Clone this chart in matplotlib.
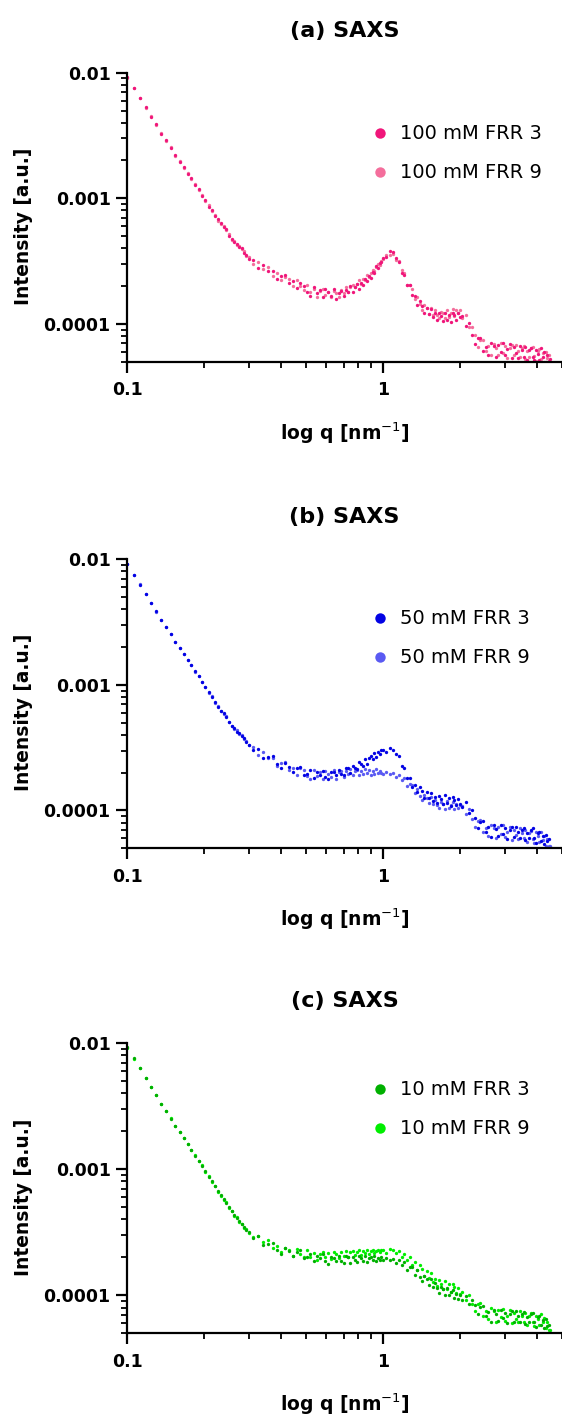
import matplotlib
matplotlib.use('Agg')
import matplotlib.pyplot as plt
import numpy as np
from matplotlib.ticker import NullFormatter

plt.rcParams['font.family'] = ['DejaVu Sans']

# ---------------- data (q in nm^-1, intensity in units of 1e-5 a.u.) ----------------
q = [0.100, 0.106, 0.112, 0.118, 0.124, 0.130, 0.136, 0.142, 0.148, 0.154,
     0.160, 0.166, 0.172, 0.178, 0.184, 0.190, 0.196, 0.202, 0.208, 0.214,
     0.220, 0.226, 0.232, 0.238, 0.244, 0.250, 0.256, 0.262, 0.268, 0.274,
     0.280, 0.286, 0.292, 0.298,
     0.310, 0.325, 0.340, 0.355, 0.370, 0.385, 0.400, 0.415, 0.430, 0.445,
     0.460, 0.475, 0.490, 0.505, 0.520, 0.535, 0.550, 0.565, 0.580, 0.595,
     0.610, 0.625, 0.640, 0.655, 0.670, 0.685, 0.700, 0.715, 0.730, 0.745,
     0.760, 0.775, 0.790, 0.805, 0.820, 0.835, 0.850, 0.865, 0.880, 0.895,
     0.910, 0.925, 0.940, 0.955, 0.970, 0.985,
     1.00, 1.03, 1.06, 1.09, 1.12, 1.15, 1.18, 1.21, 1.24, 1.27,
     1.30, 1.33, 1.36, 1.39, 1.42, 1.45, 1.48, 1.51, 1.54, 1.57,
     1.60, 1.63, 1.66, 1.69, 1.72, 1.75, 1.78, 1.81, 1.84, 1.87,
     1.90, 1.93, 1.96, 1.99,
     2.04, 2.10, 2.16, 2.22, 2.28, 2.34, 2.40, 2.46, 2.52, 2.58,
     2.64, 2.70, 2.76, 2.82, 2.88, 2.94, 3.00, 3.06, 3.12, 3.18,
     3.24, 3.30, 3.36, 3.42, 3.48, 3.54, 3.60, 3.66, 3.72, 3.78,
     3.84, 3.90, 3.96, 4.02, 4.08, 4.14, 4.20, 4.26, 4.32, 4.38,
     4.44, 4.50]

a_frr3 = [920, 755, 628, 534, 447, 388, 328, 292, 250, 222,
          195, 177, 157, 144, 127, 118, 105, 97, 86, 81,
          72, 68, 63, 59, 56.5, 50.5, 47.5, 44.5, 43.5, 41,
          40.5, 37, 35.5, 33,
          32.4, 28.0, 29.5, 26.2, 26.5, 22.8, 24.1, 24.3, 21.3, 21.8,
          19.3, 21.3, 20.1, 17.8, 16.7, 19.5, 17.5, 18.6, 16.4, 18.8,
          17.8, 16.6, 18.8, 15.8, 17.7, 18.4, 16.6, 18.5, 17.9, 19.9,
          18.1, 19.6, 20.6, 18.8, 21.1, 20.4, 22.9, 21.9, 24.1, 23.0,
          25.7, 25.5, 28.8, 28.0, 30.8, 30.9,
          33.2, 34.0, 38.4, 37.4, 33.3, 30.9, 25.4, 24.7, 20.4, 20.5,
          16.9, 16.8, 14.1, 15.2, 13.9, 12.2, 13.4, 12.0, 13.2, 11.3,
          12.2, 10.8, 12.3, 11.6, 10.6, 12.3, 10.7, 11.8, 10.3, 12.1,
          11.7, 10.8, 12.3, 11.3,
          11.6, 9.7, 10.1, 8.2, 6.9, 7.7, 7.7, 6.1, 6.6, 5.7,
          7.0, 6.7, 5.5, 6.8, 6.0, 7.1, 5.7, 6.3, 6.9, 5.4,
          6.5, 5.9, 5.4, 6.7, 6.2, 5.5, 6.5, 5.2, 6.2, 6.4,
          5.5, 5.2, 6.2, 5.8, 5.2, 6.4, 5.5, 6.0, 5.0, 5.7,
          5.1, 5.3]

a_frr9 = [915, 750, 632, 528, 452, 382, 332, 288, 254, 218,
          197, 175, 159, 142, 129, 116, 107, 95, 88, 79,
          74, 66, 62, 60.5, 55.5, 51.5, 46.5, 45.5, 42.5, 41.5,
          39.5, 38, 34.5, 34,
          29.8, 31.0, 27.2, 28.4, 24.2, 25.2, 22.2, 23.8, 22.6, 20.1,
          22.3, 19.9, 18.5, 20.4, 17.9, 19.1, 16.4, 18.3, 18.9, 17.0,
          18.1, 16.3, 18.4, 17.7, 16.5, 18.5, 17.6, 19.6, 18.0, 19.7,
          20.5, 19.5, 20.8, 22.2, 20.7, 22.9, 22.3, 24.4, 23.6, 25.6,
          26.8, 26.4, 28.2, 29.8, 29.4, 31.7,
          32.8, 35.6, 35.4, 36.0, 32.2, 31.6, 26.8, 25.6, 20.5, 20.4,
          19.0, 15.9, 16.4, 14.3, 13.0, 14.2, 13.4, 12.0, 13.4, 11.8,
          12.8, 11.8, 11.1, 12.4, 12.2, 11.1, 12.9, 11.4, 12.3, 13.1,
          11.6, 12.9, 12.1, 12.9,
          11.2, 11.7, 9.4, 9.5, 8.1, 6.6, 7.4, 7.4, 6.1, 6.7,
          5.7, 6.9, 6.4, 5.7, 7.0, 5.9, 6.7, 5.4, 6.4, 6.8,
          5.7, 6.8, 6.1, 5.5, 6.4, 6.7, 5.3, 6.1, 5.5, 6.4,
          6.6, 5.6, 5.1, 6.1, 6.3, 5.3, 5.9, 5.0, 6.0, 5.4,
          5.7, 4.9]

b_frr3 = [925, 752, 630, 531, 449, 385, 330, 290, 252, 220,
          196, 176, 158, 143, 128, 117, 106, 96, 87, 80,
          73, 67, 62.5, 60, 55.5, 51, 47, 45, 42.5, 41.5,
          39.5, 37.5, 35, 33.5,
          30.1, 30.7, 26.1, 26.8, 27.1, 23.3, 21.6, 23.9, 22.3, 20.2,
          21.8, 22.2, 19.3, 19.6, 21.0, 18.2, 20.1, 19.2, 20.8, 18.4,
          17.7, 20.4, 20.1, 19.0, 21.2, 19.6, 19.2, 21.7, 21.6, 19.8,
          22.5, 21.6, 21.3, 24.2, 23.5, 22.8, 25.5, 23.4, 26.0, 27.1,
          25.9, 28.7, 26.8, 29.1, 28.4, 30.4,
          30.4, 29.3, 31.2, 30.3, 28.0, 27.0, 22.6, 21.8, 18.1, 18.2,
          15.4, 16.1, 14.0, 15.4, 14.3, 12.6, 14.0, 12.5, 13.8, 11.8,
          12.9, 11.4, 13.0, 12.3, 11.3, 13.2, 11.5, 12.6, 10.9, 12.7,
          12.2, 11.1, 12.4, 11.3,
          10.7, 11.6, 9.6, 10.0, 8.7, 7.2, 8.1, 8.2, 6.7, 7.4,
          6.2, 7.7, 7.1, 6.3, 7.7, 6.5, 7.3, 5.9, 7.0, 7.4,
          6.2, 7.4, 6.7, 6.0, 7.0, 7.3, 5.8, 6.6, 6.0, 7.0,
          7.2, 6.0, 5.5, 6.6, 6.8, 5.7, 6.3, 5.4, 6.4, 5.7,
          5.9, 4.9]

b_frr9 = [918, 748, 634, 527, 451, 383, 331, 288, 253, 219,
          195, 177, 157, 144, 127, 118, 105, 97, 86, 81,
          72, 68, 61.5, 59, 56.5, 50.5, 47.5, 44.5, 43.5, 41,
          40, 37, 35.5, 33,
          31.9, 27.6, 29.2, 26.0, 26.3, 22.6, 24.0, 24.2, 21.2, 21.7,
          19.3, 21.6, 20.9, 18.8, 17.8, 21.0, 18.9, 20.2, 17.8, 20.6,
          19.6, 18.5, 21.1, 17.8, 20.1, 20.8, 18.6, 20.5, 19.6, 21.4,
          19.3, 20.5, 21.2, 19.0, 20.8, 19.7, 21.5, 19.9, 21.1, 19.3,
          20.7, 19.7, 21.3, 19.9, 20.8, 20.0,
          19.7, 20.2, 19.6, 19.9, 18.5, 19.3, 17.6, 18.2, 15.6, 16.4,
          16.0, 13.9, 14.8, 13.1, 12.2, 13.3, 12.6, 11.4, 12.7, 11.2,
          12.2, 11.1, 10.4, 11.7, 11.3, 10.2, 11.8, 10.4, 11.1, 11.7,
          10.2, 11.2, 10.4, 11.0,
          10.8, 9.3, 10.2, 8.6, 7.4, 8.3, 8.4, 6.7, 7.3, 6.3,
          7.7, 7.3, 6.0, 7.4, 6.5, 7.6, 6.1, 6.8, 7.4, 5.8,
          7.0, 6.4, 5.9, 7.3, 6.6, 6.0, 7.0, 5.6, 6.6, 6.9,
          5.9, 5.5, 6.7, 6.3, 5.6, 6.8, 5.8, 6.3, 5.2, 5.9,
          5.2, 5.2]

c_frr3 = [922, 754, 629, 532, 448, 386, 330, 291, 251, 221,
          196, 176, 158, 143, 128, 117, 106, 96, 87, 80,
          73, 67, 62, 58, 54, 50, 46.5, 43.5, 41, 38.5,
          36.5, 34.5, 33, 31.5,
          28.6, 29.5, 25.0, 25.7, 26.0, 22.7, 21.2, 23.6, 22.3, 20.4,
          22.2, 22.7, 19.7, 20.0, 21.4, 18.6, 20.5, 19.6, 21.1, 18.6,
          17.7, 20.3, 19.8, 18.6, 20.6, 18.8, 18.2, 20.4, 20.0, 18.0,
          20.2, 19.0, 18.4, 20.6, 19.6, 18.6, 20.4, 18.3, 19.9, 20.3,
          18.9, 20.5, 18.7, 19.9, 19.1, 20.1,
          19.0, 19.6, 19.1, 19.5, 18.2, 19.1, 17.5, 18.3, 15.9, 16.9,
          16.7, 14.6, 15.8, 14.0, 13.0, 14.3, 13.5, 12.0, 13.4, 11.7,
          12.6, 11.4, 10.5, 11.7, 11.2, 10.1, 11.4, 10.0, 10.6, 11.0,
          9.5, 10.3, 9.4, 10.0,
          9.1, 9.9, 8.5, 9.2, 8.4, 7.1, 8.1, 8.3, 6.8, 7.4,
          6.2, 7.7, 7.1, 6.3, 7.7, 6.6, 7.3, 6.0, 7.1, 7.5,
          6.2, 7.5, 6.8, 6.1, 7.1, 7.4, 5.9, 6.7, 6.1, 7.1,
          7.3, 6.1, 5.6, 6.7, 6.9, 5.8, 6.4, 5.5, 6.5, 5.7,
          5.8, 4.8]

c_frr9 = [918, 750, 631, 530, 450, 384, 331, 289, 253, 219,
          197, 175, 159, 142, 129, 116, 107, 95, 88, 79,
          74, 66, 61, 57, 55, 49, 47, 42.5, 41.5, 38,
          37, 34, 33.5, 31,
          28.8, 29.6, 26.3, 27.5, 23.6, 24.8, 22.1, 23.9, 23.0, 20.6,
          23.1, 21.1, 20.2, 22.8, 20.3, 21.8, 18.9, 21.2, 22.0, 20.0,
          21.5, 19.4, 22.1, 21.2, 19.8, 22.0, 20.6, 22.6, 20.3, 21.9,
          22.4, 21.0, 21.9, 22.9, 20.9, 22.6, 21.6, 22.9, 21.4, 22.5,
          22.9, 21.8, 22.5, 23.0, 21.9, 22.8,
          22.7, 21.8, 23.3, 22.7, 21.8, 22.4, 20.3, 21.4, 19.1, 20.1,
          17.4, 18.3, 16.0, 17.5, 16.1, 14.2, 15.5, 13.7, 15.0, 12.7,
          13.5, 11.8, 13.3, 12.4, 11.3, 13.1, 11.3, 12.3, 10.6, 12.3,
          11.6, 10.4, 11.4, 10.3,
          10.6, 9.1, 10.0, 8.5, 7.5, 8.6, 8.7, 6.9, 7.5, 6.5,
          7.9, 7.5, 6.1, 7.6, 6.7, 7.8, 6.3, 6.9, 7.6, 6.0,
          7.2, 6.5, 6.1, 7.5, 6.9, 6.2, 7.2, 5.8, 6.9, 7.2,
          6.2, 5.7, 6.9, 6.5, 5.8, 7.1, 6.1, 6.6, 5.5, 6.1,
          5.3, 5.3]

titles = ['(a) SAXS', '(b) SAXS', '(c) SAXS']
labels = [['100 mM FRR 3', '100 mM FRR 9'],
          ['50 mM FRR 3', '50 mM FRR 9'],
          ['10 mM FRR 3', '10 mM FRR 9']]
series = [[a_frr3, a_frr9], [b_frr3, b_frr9], [c_frr3, c_frr9]]
colors = [['#F0167A', '#F46E9C'],
          ['#0303E4', '#5A5AF2'],
          ['#00B000', '#00EE00']]

xticks = [0.1, 1]
xticklabels = ['0.1', '1']
yticks = [0.0001, 0.001, 0.01]
yticklabels = ['0.0001', '0.001', '0.01']

# ---------------- figure ----------------
W, H = 562, 1420
fig = plt.figure(figsize=(W / 100, H / 100), dpi=100)

left_px, right_px = 127.3, 562.0
panel_px = [(72.7, 361.7), (559.3, 848.3), (1043.0, 1333.3)]
legend_row1_px = [133.0, 618.0, 1089.0]

qa = np.array(q)
xminor = [0.2, 0.3, 0.4, 0.5, 0.6, 0.7, 0.8, 0.9, 2, 3, 4, 5]
yminor = [k * 10.0 ** e for e in (-5, -4, -3) for k in range(2, 10)]
yminor = [v for v in yminor if 5e-5 <= v <= 0.01]

for i, (top, bot) in enumerate(panel_px):
    ax = fig.add_axes([left_px / W, 1 - bot / H, (right_px - left_px) / W, (bot - top) / H])
    hgt = bot - top
    wid = right_px - left_px
    ax.set_xscale('log')
    ax.set_yscale('log')
    handles = []
    for j in (1, 0):
        ys = np.array(series[i][j]) * 1e-5
        ax.plot(qa, ys, 'o', ms=2.4, mec='none', color=colors[i][j])
    for j in (0, 1):
        h, = ax.plot([], [], 'o', ms=7.5, mec='none', color=colors[i][j], label=labels[i][j])
        handles.append(h)
    ax.set_xlim(0.1, 5)
    ax.set_ylim(5e-5, 0.01)
    for s in ('top', 'right'):
        ax.spines[s].set_visible(False)
    for s in ('left', 'bottom'):
        ax.spines[s].set_linewidth(1.6)
    ax.set_xticks(xticks)
    ax.set_xticklabels(xticklabels, fontsize=12.5, fontweight='bold')
    ax.set_xticks(xminor, minor=True)
    ax.xaxis.set_minor_formatter(NullFormatter())
    ax.set_yticks(yticks)
    ax.set_yticklabels(yticklabels, fontsize=12.5, fontweight='bold')
    ax.set_yticks(yminor, minor=True)
    ax.yaxis.set_minor_formatter(NullFormatter())
    ax.tick_params(which='major', length=8, width=1.6, direction='out', pad=4)
    ax.tick_params(which='minor', length=4.5, width=1.3, direction='out')
    ax.tick_params(axis='x', which='major', pad=6)

    ax.set_xlabel('log q [nm$^{-1}$]', fontsize=13.5, fontweight='bold')
    ax.xaxis.set_label_coords(0.5, -(433 - 361.7) / hgt)
    ax.xaxis.label.set_va('center')
    ax.set_ylabel('Intensity [a.u.]', fontsize=13.4, fontweight='bold')
    ax.yaxis.set_label_coords(-(left_px - 24) / wid, 0.47)
    ax.yaxis.label.set_va('center')

    ax.text(0.5, 1 + 42 / hgt, titles[i], transform=ax.transAxes, ha='center', va='center',
            fontsize=16, fontweight='bold')

    leg_top = legend_row1_px[i] - 8.6
    ax.legend(handles=handles, loc='upper left',
              bbox_to_anchor=((370.0 - left_px) / wid, 1 - (leg_top - top) / hgt),
              frameon=False, fontsize=14, handlelength=1.0, handletextpad=0.55,
              borderpad=0, borderaxespad=0, labelspacing=1.03)

fig.savefig('out.png', dpi=100)
